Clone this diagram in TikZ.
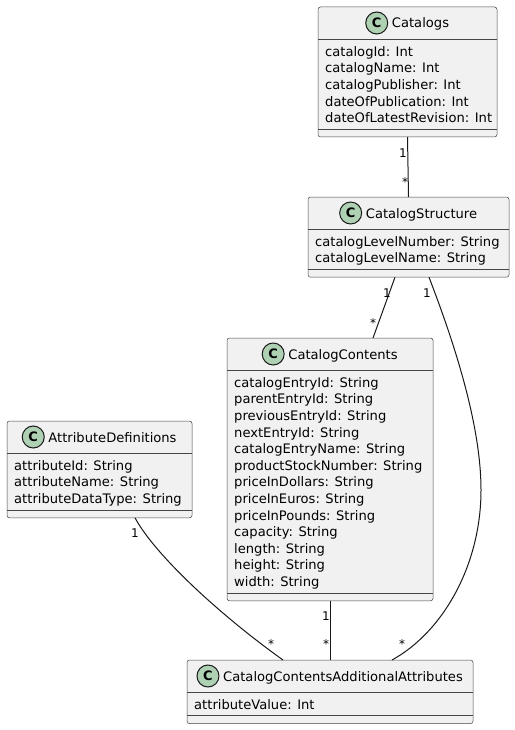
\documentclass[tikz,border=0pt]{standalone}
\usepackage{fontspec}
\setmainfont{DejaVu Sans}

\definecolor{boxfill}{HTML}{F1F1F1}
\definecolor{boxline}{HTML}{181818}
\definecolor{spotfill}{HTML}{ADD1B2}

\tikzset{
    classbox/.style={rectangle, draw=boxline!80, line width=0.5pt, fill=boxfill,
        rounded corners=2.5pt, inner sep=0pt, outer sep=0pt, anchor=north west},
    classname/.style={font=\fontsize{13.1}{16.6}\selectfont, inner sep=0pt, anchor=base},
    spot/.style={circle, draw=boxline, line width=1pt, fill=spotfill, minimum size=22pt,
        inner sep=0pt, font=\bfseries\fontsize{13}{13}\selectfont},
    attrs/.style={font=\fontsize{13.1}{16.6}\selectfont, align=left, inner sep=0pt,
        anchor=north west},
    sepline/.style={draw=boxline!80, line width=0.5pt},
    link/.style={draw=boxline, line width=1pt},
    mult/.style={font=\fontsize{12}{12}\selectfont, inner sep=0pt, anchor=base},
}

\begin{document}
\begin{tikzpicture}[x=1pt, y=-1pt]

    \useasboundingbox (0,0) rectangle (514,730);
    %\draw (0,0) rectangle (514,730);

    % Catalogs
    \node[classbox, minimum width=179pt, minimum height=130pt] (cat) at (318,7) {};
    \draw[sepline] ([yshift=-32pt]cat.north west) -- ([yshift=-32pt]cat.north east);
    \draw[sepline] ([yshift=8pt]cat.south west) -- ([yshift=8pt]cat.south east);
    \node[classname] (catname) at ([xshift=13pt,yshift=-21pt]cat.north) {Catalogs};
    \node[spot] (catspot) at ([xshift=-15pt,yshift=5pt]catname.base west) {C};
    \node[attrs] (catattr) at ([xshift=7pt,yshift=-37.4pt]cat.north west)
        {\strut catalogId: Int\\catalogName: Int\\catalogPublisher: Int\\
         dateOfPublication: Int\\dateOfLatestRevision: Int};

    % CatalogStructure
    \node[classbox, minimum width=201pt, minimum height=80.2pt] (struct) at (308,197) {};
    \draw[sepline] ([yshift=-32pt]struct.north west) -- ([yshift=-32pt]struct.north east);
    \draw[sepline] ([yshift=8pt]struct.south west) -- ([yshift=8pt]struct.south east);
    \node[classname] (structname) at ([xshift=13pt,yshift=-21pt]struct.north) {CatalogStructure};
    \node[spot] (structspot) at ([xshift=-15pt,yshift=5pt]structname.base west) {C};
    \node[attrs] (structattr) at ([xshift=7pt,yshift=-37.4pt]struct.north west)
        {\strut catalogLevelNumber: String\\catalogLevelName: String};

    % CatalogContents
    \node[classbox, minimum width=206pt, minimum height=262.8pt] (cont) at (227,338) {};
    \draw[sepline] ([yshift=-32pt]cont.north west) -- ([yshift=-32pt]cont.north east);
    \draw[sepline] ([yshift=8pt]cont.south west) -- ([yshift=8pt]cont.south east);
    \node[classname] (contname) at ([xshift=13pt,yshift=-21pt]cont.north) {CatalogContents};
    \node[spot] (contspot) at ([xshift=-15pt,yshift=5pt]contname.base west) {C};
    \node[attrs] (contattr) at ([xshift=7pt,yshift=-37.4pt]cont.north west)
        {\strut catalogEntryId: String\\parentEntryId: String\\previousEntryId: String\\
         nextEntryId: String\\catalogEntryName: String\\productStockNumber: String\\
         priceInDollars: String\\priceInEuros: String\\priceInPounds: String\\
         capacity: String\\length: String\\height: String\\width: String};

    % AttributeDefinitions
    \node[classbox, minimum width=185pt, minimum height=96.8pt] (adef) at (7,421) {};
    \draw[sepline] ([yshift=-32pt]adef.north west) -- ([yshift=-32pt]adef.north east);
    \draw[sepline] ([yshift=8pt]adef.south west) -- ([yshift=8pt]adef.south east);
    \node[classname] (adefname) at ([xshift=13pt,yshift=-21pt]adef.north) {AttributeDefinitions};
    \node[spot] (adefspot) at ([xshift=-15pt,yshift=5pt]adefname.base west) {C};
    \node[attrs] (adefattr) at ([xshift=7pt,yshift=-37.4pt]adef.north west)
        {\strut attributeId: String\\attributeName: String\\attributeDataType: String};

    % CatalogContentsAdditionalAttributes
    \node[classbox, minimum width=286pt, minimum height=63.6pt] (ccaa) at (187,660) {};
    \draw[sepline] ([yshift=-32pt]ccaa.north west) -- ([yshift=-32pt]ccaa.north east);
    \draw[sepline] ([yshift=8pt]ccaa.south west) -- ([yshift=8pt]ccaa.south east);
    \node[classname] (ccaaname) at ([xshift=13pt,yshift=-21pt]ccaa.north) {CatalogContentsAdditionalAttributes};
    \node[spot] (ccaaspot) at ([xshift=-15pt,yshift=5pt]ccaaname.base west) {C};
    \node[attrs] (ccaaattr) at ([xshift=7pt,yshift=-37.4pt]ccaa.north west)
        {\strut attributeValue: Int};

    % links
    \draw[link] (cat.south) -- (struct.north);
    \draw[link] ([xshift=-13.5pt]struct.south) -- ([xshift=43pt]cont.north);
    \draw[link] ([xshift=20.5pt]struct.south) .. controls (450,332) and (481,420) .. (481,490)
        .. controls (481,565) and (443,632) .. ([xshift=62pt]ccaa.north);
    \draw[link] (cont.south) -- (ccaa.north);
    \draw[link] ([xshift=35.5pt]adef.south) .. controls (155,555) and (220,615) .. ([xshift=-47pt]ccaa.north);

    % multiplicities
    \node[mult] (m1a) at (403,157.4) {1};
    \node[mult] (m1b) at (405,186.8) {*};
    \node[mult] (m2a) at (387,297.4) {1};
    \node[mult] (m2b) at (373,327.8) {*};
    \node[mult] (m3a) at (427,297.4) {1};
    \node[mult] (m3b) at (402,648.8) {*};
    \node[mult] (m4a) at (326,620.4) {1};
    \node[mult] (m4b) at (326,648.8) {*};
    \node[mult] (m5a) at (135,537.4) {1};
    \node[mult] (m5b) at (271,648.8) {*};

\end{tikzpicture}
\end{document}
